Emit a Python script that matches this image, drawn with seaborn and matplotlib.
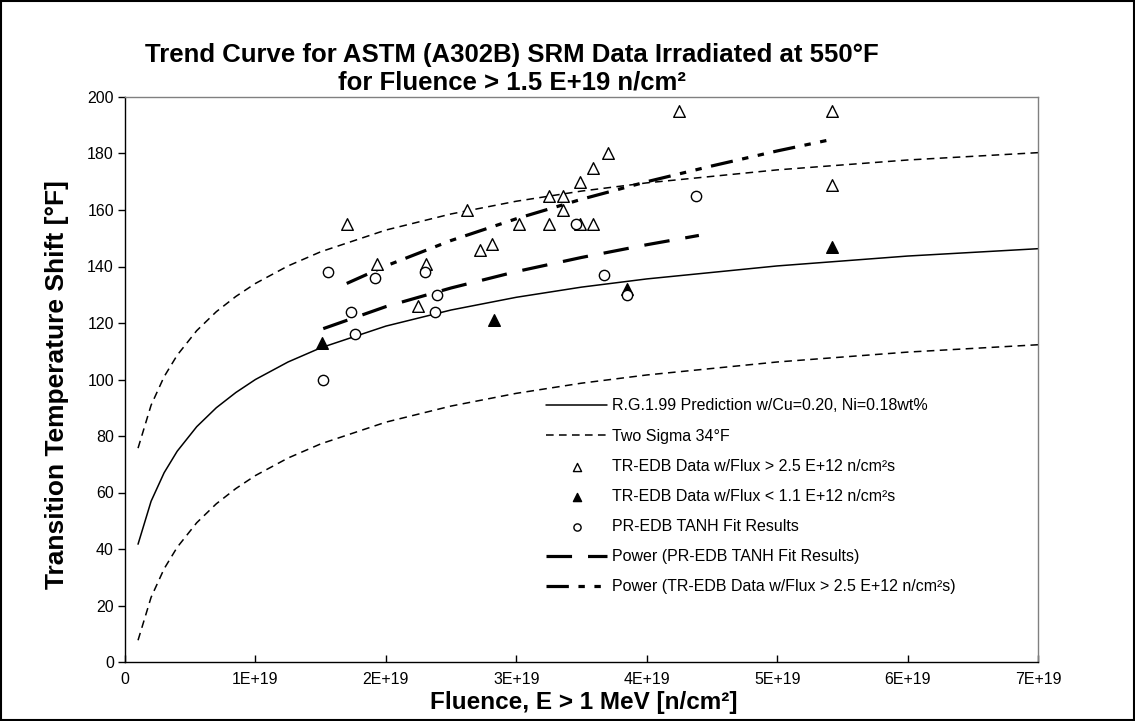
import matplotlib
matplotlib.use("Agg")
import matplotlib.pyplot as plt
import seaborn as sns
from matplotlib.patches import Rectangle

sns.set_theme(style="white")
plt.rcParams['font.family'] = ['Liberation Sans', 'DejaVu Sans']
plt.rcParams['text.color'] = 'black'
plt.rcParams['axes.labelcolor'] = 'black'
plt.rcParams['xtick.color'] = 'black'
plt.rcParams['ytick.color'] = 'black'

# ---------------- data (fluence in units of 1E+19 n/cm^2) ----------------
curve_fluence = [0.1, 0.2, 0.3, 0.4, 0.55, 0.7, 0.85, 1.0, 1.25, 1.5, 2.0, 2.5,
                 3.0, 3.5, 4.0, 5.0, 6.0, 7.0]
rg_prediction = [41.7, 56.9, 67.0, 74.6, 83.3, 90.0, 95.4, 100.0, 106.2, 111.2,
                 118.9, 124.6, 129.1, 132.7, 135.6, 140.2, 143.7, 146.3]
sigma_upper = [75.7, 90.9, 101.0, 108.6, 117.3, 124.0, 129.4, 134.0, 140.2, 145.2,
               152.9, 158.6, 163.1, 166.7, 169.6, 174.2, 177.7, 180.3]
sigma_lower = [7.7, 22.9, 33.0, 40.6, 49.3, 56.0, 61.4, 66.0, 72.2, 77.2,
               84.9, 90.6, 95.1, 98.7, 101.6, 106.2, 109.7, 112.3]

tr_high_x = [1.70, 1.93, 2.25, 2.31, 2.62, 2.72, 2.81, 3.02, 3.25, 3.25, 3.36,
             3.36, 3.49, 3.49, 3.59, 3.59, 3.70, 4.25, 5.42, 5.42]
tr_high_y = [155, 141, 126, 141, 160, 146, 148, 155, 165, 155, 165,
             160, 170, 155, 175, 155, 180, 195, 195, 169]

tr_low_x = [1.51, 2.83, 3.85, 5.42]
tr_low_y = [113, 121, 132, 147]

pr_x = [1.52, 1.56, 1.73, 1.76, 1.92, 2.30, 2.38, 2.39, 3.46, 3.67, 3.85, 4.38]
pr_y = [100, 138, 124, 116, 136, 138, 124, 130, 155, 137, 130, 165]

pr_trend_x = [1.52, 2.0, 2.5, 3.0, 3.5, 4.0, 4.4]
pr_trend_y = [118.0, 125.8, 132.4, 138.2, 143.2, 147.7, 151.0]
tr_trend_x = [1.7, 2.0, 2.5, 3.0, 3.5, 4.0, 4.5, 5.0, 5.42]
tr_trend_y = [134.0, 140.2, 149.2, 156.9, 163.8, 170.0, 175.6, 180.9, 185.0]

x_ticks = [0, 1, 2, 3, 4, 5, 6, 7]
x_tick_labels = ['0', '1E+19', '2E+19', '3E+19', '4E+19', '5E+19', '6E+19', '7E+19']
y_ticks = list(range(0, 201, 20))

labels = [
    'R.G.1.99 Prediction w/Cu=0.20, Ni=0.18wt%',
    'Two Sigma 34°F',
    'TR-EDB Data w/Flux > 2.5 E+12 n/cm²s',
    'TR-EDB Data w/Flux < 1.1 E+12 n/cm²s',
    'PR-EDB TANH Fit Results',
    'Power (PR-EDB TANH Fit Results)',
    'Power (TR-EDB Data w/Flux > 2.5 E+12 n/cm²s)',
]

# ---------------- figure ----------------
fig = plt.figure(figsize=(11.35, 7.21), dpi=100)
fig.patch.set_facecolor('white')
ax = fig.add_axes([125 / 1135, (721 - 662) / 721, 913 / 1135, 565 / 721])

sns.lineplot(x=curve_fluence, y=rg_prediction, ax=ax, color='black', lw=1.1,
             sort=False, estimator=None, label=labels[0])
sns.lineplot(x=curve_fluence, y=sigma_upper, ax=ax, color='black', lw=1.1,
             linestyle=(0, (5, 3.5)), sort=False, estimator=None, label=labels[1])
sns.lineplot(x=curve_fluence, y=sigma_lower, ax=ax, color='black', lw=1.1,
             linestyle=(0, (5, 3.5)), sort=False, estimator=None, label='_nolegend_')
sns.lineplot(x=pr_trend_x, y=pr_trend_y, ax=ax, color='black', lw=2.3,
             linestyle=(0, (8, 5)), sort=False, estimator=None, label=labels[5])
sns.lineplot(x=tr_trend_x, y=tr_trend_y, ax=ax, color='black', lw=2.3,
             linestyle=(0, (7, 3, 2, 3, 2, 3)), sort=False, estimator=None, label=labels[6])

sns.scatterplot(x=tr_high_x, y=tr_high_y, ax=ax, marker='^', s=70, color='white',
                edgecolor='black', linewidth=1.0, label=labels[2], zorder=3)
sns.scatterplot(x=tr_low_x, y=tr_low_y, ax=ax, marker='^', s=70, color='black',
                edgecolor='black', linewidth=1.0, label=labels[3], zorder=3)
sns.scatterplot(x=pr_x, y=pr_y, ax=ax, marker='o', s=55, color='white',
                edgecolor='black', linewidth=1.0, label=labels[4], zorder=3)

ax.set_xlim(0, 7)
ax.set_ylim(0, 200)
ax.set_xticks(x_ticks)
ax.set_xticklabels(x_tick_labels)
ax.set_yticks(y_ticks)
ax.tick_params(axis='y', direction='out', length=5, width=1, color='black',
               labelcolor='black', labelsize=11.5, pad=3, left=True)
ax.tick_params(axis='x', direction='in', length=5, width=1, color='black',
               labelcolor='black', labelsize=11.5, pad=7, bottom=True)
for side in ['left', 'bottom']:
    ax.spines[side].set_color('black')
    ax.spines[side].set_linewidth(1.0)
for side in ['top', 'right']:
    ax.spines[side].set_color('#808080')
    ax.spines[side].set_linewidth(1.0)
ax.grid(False)
ax.set_xlabel('')
ax.set_ylabel('')

# legend in reference order
h, l = ax.get_legend_handles_labels()
lookup = dict(zip(l, h))
leg = ax.legend([lookup[k] for k in labels], labels, loc='upper left',
                bbox_to_anchor=((540 - 125) / 913, (662 - 392) / 565),
                frameon=False, fontsize=11.5, handlelength=3.8, handletextpad=0.3,
                labelspacing=0.95, markerscale=0.7, borderaxespad=0)
for t in leg.get_texts():
    t.set_color('black')

# titles and axis labels
fig.text(512 / 1135, 1 - 55 / 721, 'Trend Curve for ASTM (A302B) SRM Data Irradiated at 550°F',
         ha='center', va='center', fontsize=18.5, fontweight='bold', color='black')
fig.text(512 / 1135, 1 - 82 / 721, 'for Fluence > 1.5 E+19 n/cm²',
         ha='center', va='center', fontsize=18.5, fontweight='bold', color='black')
fig.text(57 / 1135, 1 - 385 / 721, 'Transition Temperature Shift [°F]', rotation=90,
         ha='center', va='center', fontsize=19, fontweight='bold', color='black')
fig.text(584 / 1135, 1 - 703 / 721, 'Fluence, E > 1 MeV [n/cm²]',
         ha='center', va='center', fontsize=17.5, fontweight='bold', color='black')

# outer border
fig.patches.append(Rectangle((0.001, 0.001), 0.998, 0.997, transform=fig.transFigure,
                             fill=False, edgecolor='black', linewidth=1.5))

fig.savefig('out.png', dpi=100)
